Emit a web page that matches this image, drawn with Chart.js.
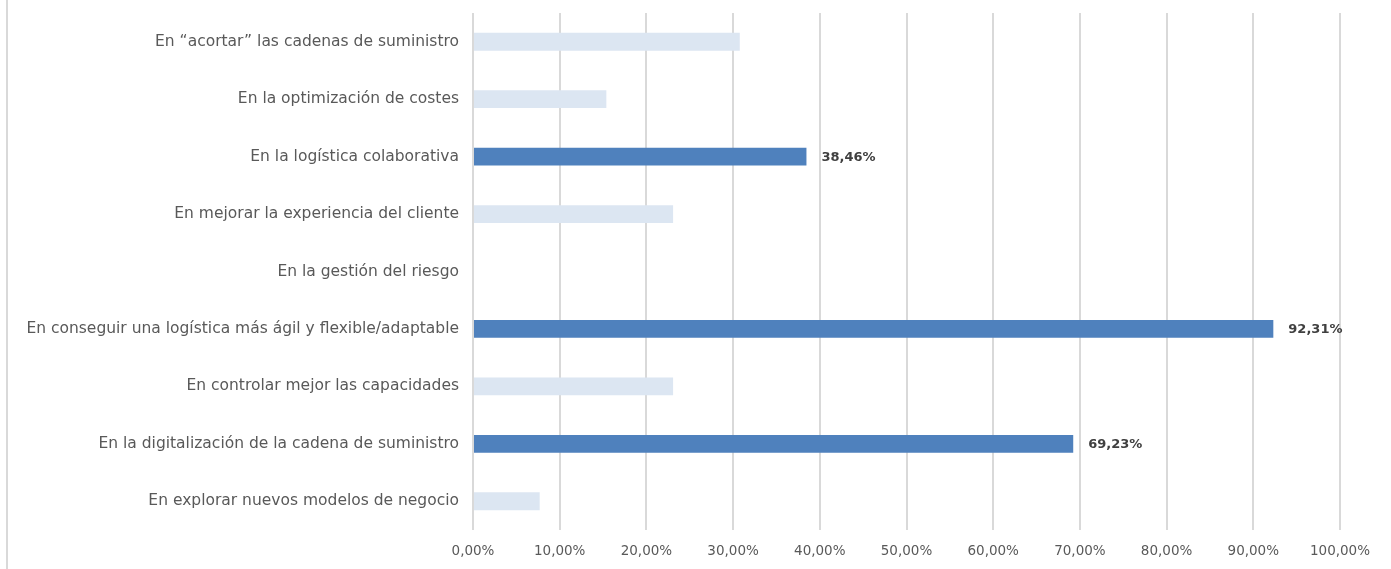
<!DOCTYPE html>
<html><head><meta charset="utf-8">
<script src="https://cdn.jsdelivr.net/npm/chart.js@4/dist/chart.umd.min.js"></script>
<style>
html,body{margin:0;padding:0;background:#fff;}
#wrap{position:relative;width:1391px;height:569px;}
#edge{position:absolute;left:6px;top:0;width:2px;height:569px;background:#d9d9d9;}
canvas{position:absolute;left:0;top:0;}
</style></head>
<body><div id="wrap"><div id="edge"></div><canvas id="c" width="1391" height="569"></canvas></div>
<script>
const categories = [
  "En “acortar” las cadenas de suministro",
  "En la optimización de costes",
  "En la logística colaborativa",
  "En mejorar la experiencia del cliente",
  "En la gestión del riesgo",
  "En conseguir una logística más ágil y flexible/adaptable",
  "En controlar mejor las capacidades",
  "En la digitalización de la cadena de suministro",
  "En explorar nuevos modelos de negocio"
];
const values = [30.77, 15.38, 38.46, 23.08, 0, 92.31, 23.08, 69.23, 7.69];
const highlighted = [false, false, true, false, false, true, false, true, false];
const xTicks = [0,10,20,30,40,50,60,70,80,90,100];

const DARK = '#4F81BD', LIGHT = '#DCE6F2';
const FONT = '"DejaVu Sans", sans-serif';
const fmt = v => v.toFixed(2).replace('.', ',') + '%';

const labelPlugin = {
  id: 'valLabels',
  afterDatasetsDraw(chart) {
    const ctx = chart.ctx;
    const meta = chart.getDatasetMeta(0);
    ctx.save();
    ctx.font = 'bold 13px ' + FONT;
    ctx.fillStyle = '#404040';
    ctx.textBaseline = 'middle';
    ctx.textAlign = 'left';
    meta.data.forEach((bar, i) => {
      if (!highlighted[i]) return;
      ctx.fillText(fmt(values[i]), bar.x + 15, bar.y + 1);
    });
    ctx.restore();
  }
};

new Chart(document.getElementById('c'), {
  type: 'bar',
  data: {
    labels: categories,
    datasets: [{
      data: values,
      backgroundColor: values.map((v, i) => highlighted[i] ? DARK : LIGHT),
      borderWidth: 0,
      categoryPercentage: 1,
      barPercentage: 0.31
    }]
  },
  options: {
    indexAxis: 'y',
    responsive: false,
    animation: false,
    layout: { padding: { top: 13, right: 51, left: 0, bottom: 0 } },
    plugins: { legend: { display: false }, tooltip: { enabled: false } },
    scales: {
      x: {
        min: 0, max: 100,
        afterBuildTicks(scale) { scale.ticks = xTicks.map(v => ({ value: v })); },
        afterFit(scale) { scale.height = 39; scale.paddingLeft = 0; scale.paddingRight = 0; },
        grid: { color: '#d9d9d9', lineWidth: 2, drawTicks: false },
        border: { display: false },
        ticks: {
          padding: 13,
          color: '#595959',
          font: { family: FONT, size: 13.5 },
          callback: v => fmt(v)
        }
      },
      y: {
        afterFit(scale) { scale.width = 473; scale.paddingTop = 0; scale.paddingBottom = 0; },
        grid: { display: false, drawTicks: false },
        border: { display: false },
        ticks: {
          padding: 14,
          color: '#595959',
          font: { family: FONT, size: 15.5 }
        }
      }
    }
  },
  plugins: [labelPlugin]
});
</script></body></html>
